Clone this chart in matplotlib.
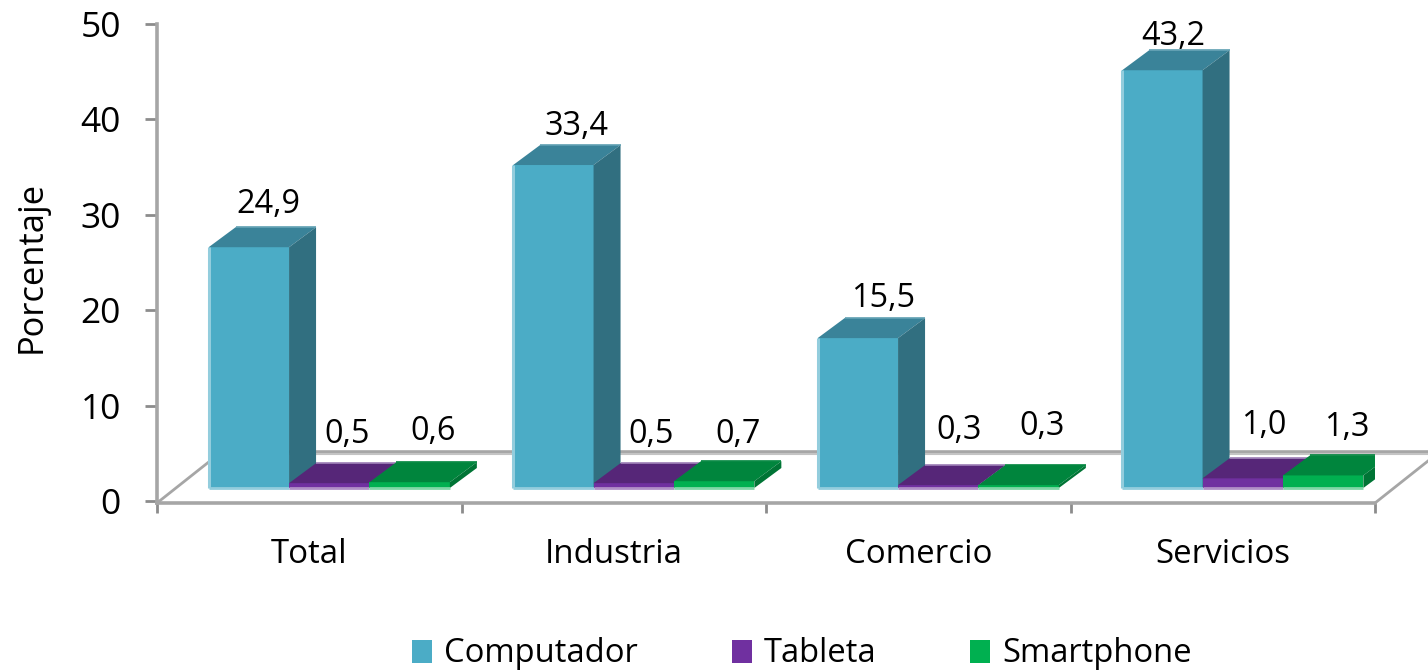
import matplotlib
matplotlib.use("Agg")
import matplotlib.pyplot as plt
from matplotlib.patches import Patch

plt.rcParams['font.family'] = ['Open Sans', 'DejaVu Sans']

# ---- data ----
categories = ['Total', 'Industria', 'Comercio', 'Servicios']
series_names = ['Computador', 'Tableta', 'Smartphone']
computador = [24.9, 33.4, 15.5, 43.2]
tableta = [0.5, 0.5, 0.3, 1.0]
smartphone = [0.6, 0.7, 0.3, 1.3]
y_ticks = [0, 10, 20, 30, 40, 50]
axis_label = 'Porcentaje'

# ---- style ----
W, H = 1428, 670
FS = 23.3
front = ['#4BACC6', '#7030A0', '#00B050']
top = ['#3A8399', '#562678', '#00853D']
side = ['#316F80', '#4A2069', '#007435']
edge = ['#93CDDD', '#B08FC7', '#7FD7A7']
backedge = ['#5F9FB2', '#9C7DB5', '#00853D']
GREY = '#A6A6A6'
# label nudges in pixels (dx, dy above the back top edge), per series / category
label_nudge = {0: [(-1, 23), (3, 19), (5, 20), (-10, 14)],
               1: [(-3, 29), (-3, 29), (0, 35), (0, 33)],
               2: [(3, 31), (3, 27), (3, 39), (3, 28)]}

fig = plt.figure(figsize=(W / 100, H / 100), dpi=100)
L, R, Y0, Y50 = 157, 1375, 503, 24
pos = [L / W, 1 - Y0 / H, (R - L) / W, (Y0 - Y50) / H]

# frame axes: walls, floor, ticks
fr = fig.add_axes(pos)
fr.set_xlim(-0.5, 3.5)
YMIN = -0.2
fr.set_ylim(YMIN, 50)
for s in ('top', 'right'):
    fr.spines[s].set_visible(False)
for s in ('left', 'bottom'):
    fr.spines[s].set_color(GREY)
    fr.spines[s].set_linewidth(2.6)
fr.set_yticks(y_ticks)
fr.set_xticks([-0.5, 0.5, 1.5, 2.5, 3.5], labels=[])
fr.set_xticks(range(len(categories)), labels=categories, minor=True)
fr.tick_params(axis='y', length=9, width=2, color='#8C8C8C', labelsize=25.5, pad=17)
fr.tick_params(axis='x', which='major', length=7, width=2, color='#8C8C8C')
fr.tick_params(axis='x', which='minor', length=0, labelsize=23.8, pad=25.5)
fr.set_ylabel(axis_label, fontsize=24.8)
fr.yaxis.set_label_coords(-108 / (R - L), (Y0 - 267) / (Y0 - Y50))

# depth of the floor, in data units of the frame axes
px_x = 4 / (R - L)
px_y = (50 - YMIN) / (Y0 - Y50)
ddx, ddy = 53 * px_x, 51 * px_y
fr.plot([-0.5 + ddx, 3.5 + ddx], [YMIN + ddy, YMIN + ddy], color=GREY, lw=2.6, clip_on=False, solid_capstyle='butt')
fr.plot([-0.5 + ddx, 3.5 + ddx], [YMIN + ddy - 1.6 * px_y] * 2, color='#C4C4C4', lw=1.5, clip_on=False, solid_capstyle='butt')
fr.plot([-0.5, -0.5 + ddx], [YMIN, YMIN + 42 * px_y], color=GREY, lw=2, clip_on=False)
fr.plot([3.5, 3.5 + ddx], [YMIN, YMIN + 42 * px_y], color=GREY, lw=2, clip_on=False)

# bars axes: same box, its zero is the bar base
SCALE = 9.67
BASE = 488
ax = fig.add_axes(pos)
ax.patch.set_alpha(0)
ax.axis('off')
ax.set_xlim(-0.5, 3.5)
ax.set_ylim((BASE - Y0) / SCALE, (BASE - Y50) / SCALE)

bw = 80.4 / (R - L) * 4
dx = 27 / (R - L) * 4
dy = 20 / SCALE
shift = 20 / (R - L) * 4
all_series = [computador, tableta, smartphone]

for j, vals in enumerate(all_series):
    for i, v in enumerate(vals):
        xc = i + shift + (j - 1) * bw
        x0, x1 = xc - bw / 2, xc + bw / 2
        ax.bar(xc, v, width=bw, color=front[j], linewidth=0, zorder=3 + j)
        ax.fill([x0, x1, x1 + dx, x0 + dx], [v, v, v + dy, v + dy],
                color=top[j], lw=0, zorder=3 + j)
        ax.fill([x1, x1 + dx, x1 + dx, x1], [0, dy, v + dy, v],
                color=side[j], lw=0, zorder=3 + j)
        ax.plot([x0, x1], [0, 0], color=edge[j], lw=2, zorder=3.5 + j,
                solid_capstyle='butt', clip_on=False)
        ax.plot([x0 + dx, x1 + dx], [v + dy, v + dy], color=backedge[j], lw=1.2,
                zorder=3.5 + j, solid_capstyle='butt')
        if j == 0:
            ax.plot([x0, x0], [0, v], color=edge[j], lw=2.2, zorder=3.5 + j,
                    solid_capstyle='butt')
        nx, ny = label_nudge[j][i]
        ax.annotate(f'{v:.1f}'.replace('.', ','), (xc + dx, v + dy),
                    xytext=((nx - 6.5) * 0.72, ny * 0.72), textcoords='offset points',
                    ha='center', va='center', fontsize=FS, color='black', zorder=10)

handles = [Patch(facecolor=c, edgecolor='none') for c in front]
fig.legend(handles, series_names, ncol=3, loc='center', frameon=False,
           bbox_to_anchor=(802 / W, 1 - 654 / H), fontsize=23.6,
           handlelength=0.62, handleheight=0.7, handletextpad=0.37,
           columnspacing=2.85, borderpad=0, borderaxespad=0)

fig.savefig('out.png', dpi=100)
